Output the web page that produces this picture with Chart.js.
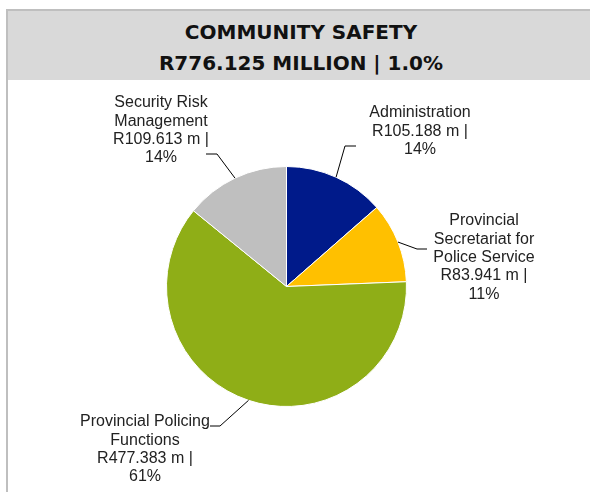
<!DOCTYPE html>
<html>
<head>
<meta charset="utf-8">
<script src="https://cdn.jsdelivr.net/npm/chart.js@4"></script>
<style>
  body { margin: 0; width: 590px; height: 492px; overflow: hidden; background: #fff; position: relative; }
  #frame { position: absolute; left: 6px; top: 9px; width: 600px; height: 500px;
           border-top: 2px solid #bfbfbf; border-left: 2px solid #bfbfbf; }
  #title { position: absolute; left: 8px; top: 11px; width: 586px; height: 69px; background: #d9d9d9;
           font-family: "DejaVu Sans", sans-serif; font-weight: bold; font-size: 20px; line-height: 31px;
           color: #111; text-align: center; padding-top: 6px; box-sizing: border-box; }
  #chartPresupuesto { position: absolute; left: 0; top: 0; }
</style>
</head>
<body>
<div id="frame"></div>
<div id="title">COMMUNITY SAFETY<br>R776.125 MILLION | 1.0%</div>
<canvas id="chartPresupuesto" width="590" height="492"></canvas>
<script>
const categorias = [
  'Administration',
  'Provincial Secretariat for Police Service',
  'Provincial Policing Functions',
  'Security Risk Management',
];
const montos = [105.188, 83.941, 477.383, 109.613];   // R million
const porcentajes = [14, 11, 61, 14];                 // as printed on the chart
const colores = ['#001a8a', '#ffc000', '#8fae17', '#bfbfbf'];

// where each label sits: elbow of leader, end of leader, text centre, wrap width
const etiquetas = [
  { elbow: [345, 146], end: [356, 146], x: 420, y: 113, wrap: 200 },
  { elbow: [417, 249], end: [427, 249], x: 484, y: 221, wrap: 110 },
  { elbow: [220, 426], end: [210, 426], x: 145, y: 422, wrap: 140 },
  { elbow: [217, 154], end: [206, 154], x: 161, y: 103, wrap: 110 },
];

function partir(ctx, texto, ancho) {
  const palabras = texto.split(' ');
  const lineas = [];
  let actual = '';
  palabras.forEach(p => {
    const prueba = actual ? actual + ' ' + p : p;
    if (actual && ctx.measureText(prueba).width > ancho) {
      lineas.push(actual);
      actual = p;
    } else {
      actual = prueba;
    }
  });
  if (actual) lineas.push(actual);
  return lineas;
}

const etiquetasPlugin = {
  id: 'etiquetas',
  afterDraw(chart) {
    const ctx = chart.ctx;
    const arcs = chart.getDatasetMeta(0).data;
    ctx.save();
    ctx.font = '16px "Liberation Sans", Arial, sans-serif';
    ctx.textAlign = 'center';
    ctx.textBaseline = 'middle';
    arcs.forEach((arc, i) => {
      const p = arc.getProps(['x', 'y', 'startAngle', 'endAngle', 'outerRadius'], true);
      const medio = (p.startAngle + p.endAngle) / 2;
      const lay = etiquetas[i];
      // leader line
      ctx.strokeStyle = '#000';
      ctx.lineWidth = 1;
      ctx.beginPath();
      ctx.moveTo(p.x + Math.cos(medio) * p.outerRadius, p.y + Math.sin(medio) * p.outerRadius);
      ctx.lineTo(lay.elbow[0], lay.elbow[1]);
      ctx.lineTo(lay.end[0], lay.end[1]);
      ctx.stroke();
      // text
      const lineas = partir(ctx, categorias[i], lay.wrap);
      lineas.push('R' + montos[i].toFixed(3) + ' m |');
      lineas.push(porcentajes[i] + '%');
      ctx.fillStyle = '#222';
      lineas.forEach((l, k) => ctx.fillText(l, lay.x, lay.y + k * 18.3));
    });
    ctx.restore();
  }
};

const ctx = document.getElementById('chartPresupuesto');
new Chart(ctx, {
  type: 'pie',
  data: {
    labels: categorias,
    datasets: [{
      label: 'Community Safety',
      data: montos,
      backgroundColor: colores,
      borderColor: '#ffffff',
      borderWidth: 1
    }]
  },
  options: {
    responsive: false,
    animation: false,
    devicePixelRatio: 1,
    layout: { padding: { left: 166, right: 183, top: 166, bottom: 85 } },
    plugins: {
      legend: { display: false },
      tooltip: { enabled: false }
    }
  },
  plugins: [etiquetasPlugin]
});
</script>
</body>
</html>
